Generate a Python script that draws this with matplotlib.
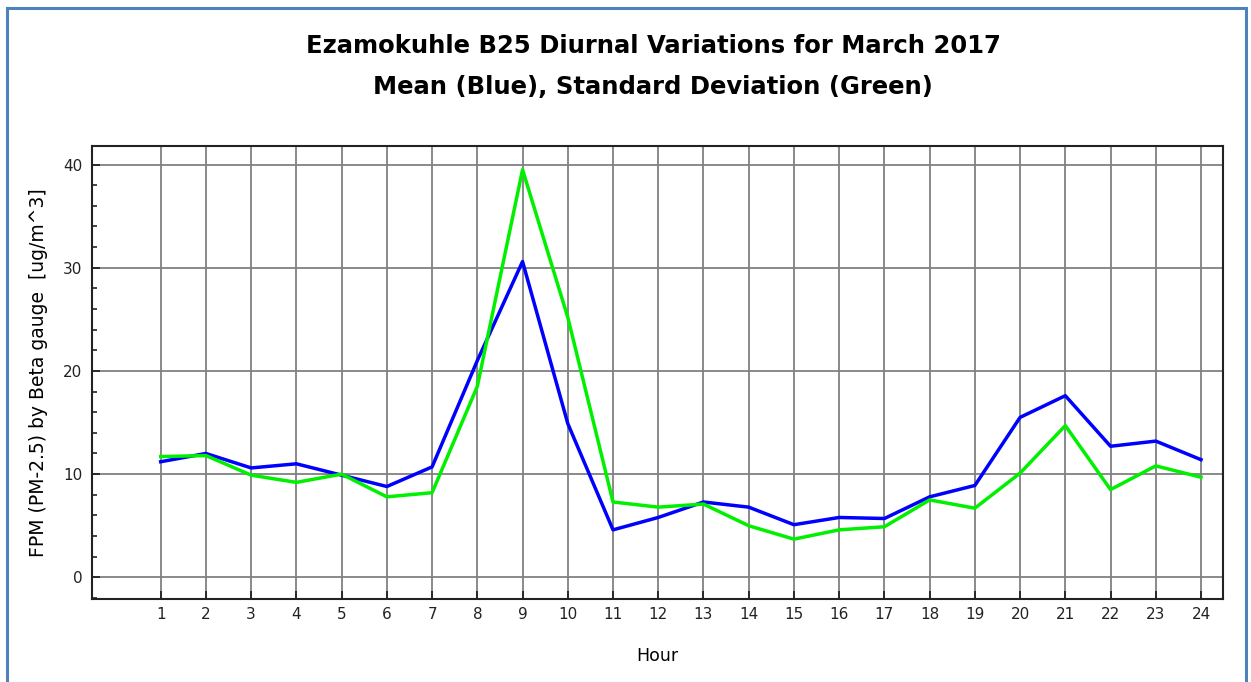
import matplotlib
matplotlib.use('Agg')
from matplotlib import pyplot as plt
from matplotlib.patches import Rectangle
from matplotlib.ticker import MultipleLocator

# wide sans looks closer to the low-res windows rendering of the original
plt.rcParams['font.family'] = ['DejaVu Sans']

# hour of day
hours = list(range(1, 25))
# mean FPM (blue)
mean_fpm = [11.2, 12.0, 10.6, 11.0, 9.9, 8.8, 10.7, 21.0, 30.6, 14.9, 4.6, 5.8,
            7.3, 6.8, 5.1, 5.8, 5.7, 7.8, 8.9, 15.5, 17.6, 12.7, 13.2, 11.4]
# standard deviation (green)
std_fpm = [11.7, 11.8, 9.9, 9.2, 10.0, 7.8, 8.2, 18.5, 39.5, 25.2, 7.3, 6.8,
           7.1, 5.0, 3.7, 4.6, 4.9, 7.5, 6.7, 10.1, 14.7, 8.5, 10.8, 9.7]
y_ticks = [0, 10, 20, 30, 40]

fig = plt.figure(figsize=(12.51, 6.82), dpi=100)

# blue frame around the whole picture
fig.patches.append(Rectangle((7 / 1251, -0.05), 1239 / 1251, 1.05 - 8 / 682,
                             transform=fig.transFigure, fill=False,
                             edgecolor='#4f81bd', linewidth=2.2))

ax = fig.add_axes([0.0735, 0.1217, 0.9039, 0.6643])
ax.plot(hours, mean_fpm, color='#0000ff', linewidth=2.5, zorder=3)
ax.plot(hours, std_fpm, color='#00f000', linewidth=2.5, zorder=3)

ax.set_xlim(-0.52, 24.48)
ax.set_ylim(-2.1, 41.8)
ax.set_xticks(hours)
ax.set_yticks(y_ticks)
ax.yaxis.set_minor_locator(MultipleLocator(2))
ax.grid(True, which='major', color='#808080', linewidth=1.3)
ax.set_axisbelow(True)

for s in ax.spines.values():
    s.set_linewidth(1.5)
    s.set_color('#222222')
ax.tick_params(which='major', direction='in', length=6, width=1.3, labelsize=11,
               colors='#222222')
ax.tick_params(which='minor', direction='in', length=3.5, width=1.2, colors='#222222')
ax.tick_params(axis='x', pad=6)
ax.tick_params(axis='y', pad=7)

ax.set_xlabel('Hour', fontsize=12.5, labelpad=18)
ax.set_ylabel('FPM (PM-2.5) by Beta gauge  [ug/m^3]', fontsize=13.5, labelpad=11)

fig.text(0.522, 0.933, 'Ezamokuhle B25 Diurnal Variations for March 2017',
         ha='center', va='center', fontsize=17.5, fontweight='bold')
fig.text(0.522, 0.872, 'Mean (Blue), Standard Deviation (Green)',
         ha='center', va='center', fontsize=17.5, fontweight='bold')

plt.savefig('out.png', dpi=100)
